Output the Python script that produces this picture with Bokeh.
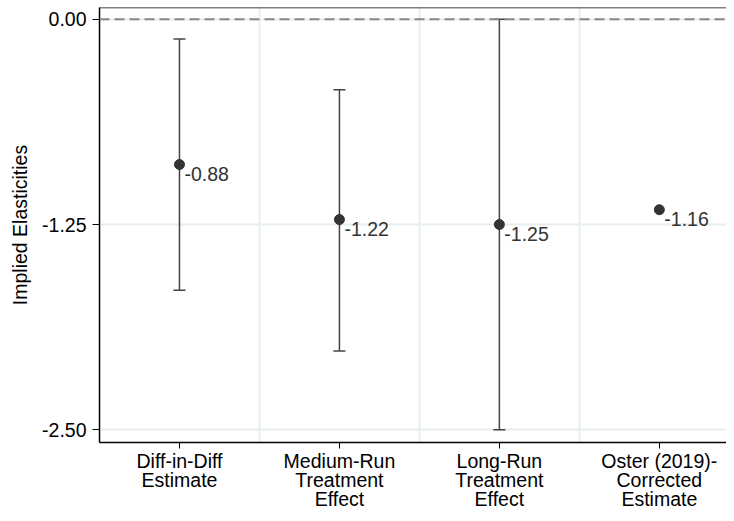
from bokeh.plotting import figure
from bokeh.models import ColumnDataSource, Whisker, Span, FixedTicker, LabelSet
from bokeh.core.properties import value
from bokeh.embed import file_html
from bokeh.resources import INLINE

categories = ["Diff-in-Diff\nEstimate", "Medium-Run\nTreatment\nEffect",
              "Long-Run\nTreatment\nEffect", "Oster (2019)-\nCorrected\nEstimate"]
positions = [1, 2, 3, 4]
estimates = [-0.885, -1.22, -1.25, -1.16]
est_labels = ["-0.88", "-1.22", "-1.25", "-1.16"]
ci_lower = [-1.65, -2.02, -2.50]
ci_upper = [-0.12, -0.43, 0.00]
y_ticks = [0.0, -1.25, -2.5]
y_tick_labels = ["0.00", "-1.25", "-2.50"]

FONT = "Liberation Sans"
FS = "19.5px"
Y_TOP = 0.071

p = figure(width=726, height=513, output_backend="svg", toolbar_location=None,
           x_range=(0.5, 4.42), y_range=(-2.577, Y_TOP),
           min_border_left=99, min_border_right=0, min_border_top=7, min_border_bottom=60)
p.outline_line_color = None
p.background_fill_color = "white"

# grids
p.xgrid.ticker = FixedTicker(ticks=[1.5, 2.5, 3.5])
p.xgrid.grid_line_color = "#e6eef0"
p.xgrid.grid_line_width = 2
p.ygrid.ticker = FixedTicker(ticks=y_ticks)
p.ygrid.grid_line_color = "#e6eef0"
p.ygrid.grid_line_width = 2

# axes
p.yaxis.ticker = FixedTicker(ticks=y_ticks)
p.yaxis.major_label_overrides = {t: l for t, l in zip(y_ticks, y_tick_labels)}
p.yaxis.axis_label = "Implied Elasticities"
p.yaxis.axis_label_text_font = FONT
p.yaxis.axis_label_text_font_size = FS
p.yaxis.axis_label_text_font_style = "normal"
p.yaxis.axis_label_text_color = "black"
p.yaxis.axis_label_standoff = 8
p.xaxis.ticker = FixedTicker(ticks=positions)
p.xaxis.major_label_overrides = {pos: c for pos, c in zip(positions, categories)}
for ax in (p.xaxis, p.yaxis):
    ax.major_label_text_font = FONT
    ax.major_label_text_font_size = FS
    ax.major_label_text_color = "black"
    ax.major_label_text_line_height = 0.88
    ax.axis_line_color = "black"
    ax.axis_line_width = 1.5
    ax.major_tick_line_color = "black"
    ax.major_tick_in = 0
    ax.minor_tick_line_color = None
p.yaxis.major_tick_out = 7
p.yaxis.major_label_standoff = 6
p.xaxis.major_tick_out = 6
p.xaxis.major_label_standoff = 1
p.xaxis.major_label_text_align = "center"

# top border
p.add_layout(Span(location=Y_TOP, dimension="width", line_color="black", line_width=1.5))

# zero line
p.add_layout(Span(location=0, dimension="width", line_color="#888888",
                  line_width=2, line_dash="10 5"))

# error bars
err_src = ColumnDataSource(dict(x=positions[:3], lower=ci_lower, upper=ci_upper))
w = Whisker(source=err_src, base="x", lower="lower", upper="upper",
            line_color="#444444", line_width=1.5)
w.upper_head.size = 12
w.lower_head.size = 12
w.upper_head.line_color = "#444444"
w.lower_head.line_color = "#444444"
w.upper_head.line_width = 1.5
w.lower_head.line_width = 1.5
p.add_layout(w)

# points
pt_src = ColumnDataSource(dict(x=positions, y=estimates, lab=est_labels))
p.scatter("x", "y", source=pt_src, size=10, fill_color="#333333", line_color="#333333")

labels = LabelSet(x="x", y="y", text="lab", source=pt_src, x_offset=5, y_offset=-2,
                  text_font=value(FONT), text_font_size=value(FS), text_color="#333333",
                  text_baseline="top", text_align="left")
p.add_layout(labels)

open("out.html", "w").write(file_html(p, INLINE))
